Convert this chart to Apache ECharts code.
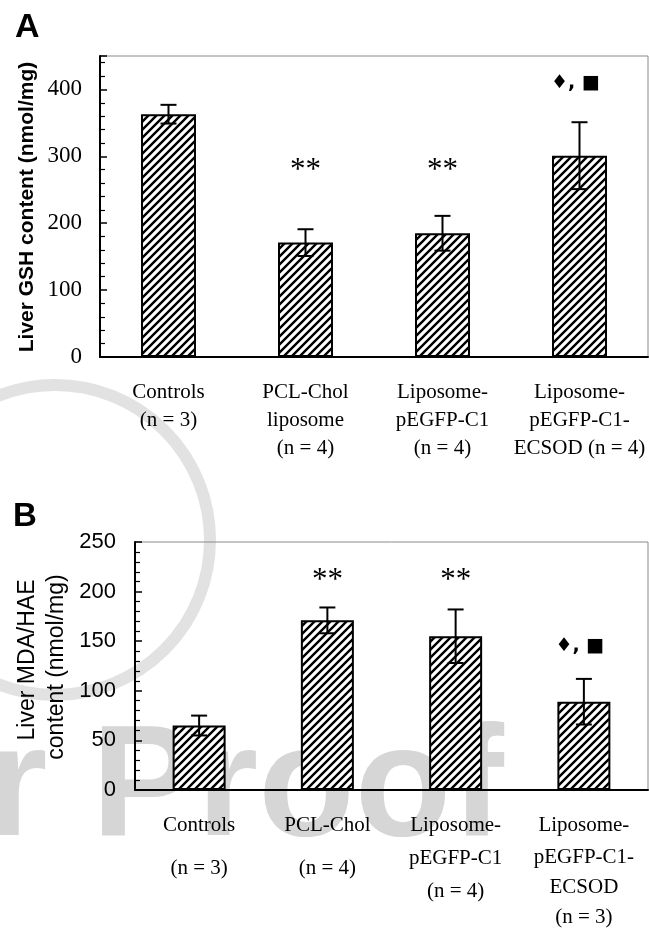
<!DOCTYPE html>
<html>
<head>
<meta charset="utf-8">
<script src="https://cdn.jsdelivr.net/npm/echarts@6/dist/echarts.min.js"></script>
<style>
  html, body { margin: 0; padding: 0; background: #fff; }
  #chart { width: 649px; height: 928px; }
</style>
</head>
<body>
<div id="chart"></div>
<script>
// panel A: liver GSH
var categoriesA = ['Controls\n(n = 3)', 'PCL-Chol\nliposome\n(n = 4)', 'Liposome-\npEGFP-C1\n(n = 4)', 'Liposome-\npEGFP-C1-\nECSOD (n = 4)']
var gshMean = [363, 171, 185, 301]
var gshErr = [14, 20, 26, 50]
var gshMarks = ['', '**', '**', '\u2666, \u25A0']
var gshMarkAt = [null, 278, 278, 410]

// panel B: liver MDA/HAE
var categoriesB = ['Controls\n(n = 3)', 'PCL-Chol\n(n = 4)', 'Liposome-\npEGFP-C1\n(n = 4)', 'Liposome-\npEGFP-C1-\nECSOD\n(n = 3)']
var mdaMean = [65, 171, 155, 89]
var mdaErr = [10, 13, 27, 23]
var mdaMarks = ['', '**', '**', '\u2666, \u25A0']
var mdaMarkAt = [null, 211, 211, 145]

var serif = 'Liberation Serif'
var sans = 'Liberation Sans'

// hatch pattern ///
var tile = document.createElement('canvas')
tile.width = 8
tile.height = 8
var ctx = tile.getContext('2d')
ctx.fillStyle = '#fff'
ctx.fillRect(0, 0, 8, 8)
ctx.strokeStyle = '#000'
ctx.lineWidth = 2.4
ctx.beginPath()
ctx.moveTo(0, 8); ctx.lineTo(8, 0)
ctx.moveTo(-2, 2); ctx.lineTo(2, -2)
ctx.moveTo(6, 10); ctx.lineTo(10, 6)
ctx.stroke()
var hatch = { image: tile, repeat: 'repeat' }

function errorItem (params, api) {
  var x = api.value(0)
  var m = api.value(1)
  var e = api.value(2)
  var top = api.coord([x, m + e])
  var bot = api.coord([x, m - e])
  var style = { stroke: '#000', lineWidth: 2 }
  return {
    type: 'group',
    children: [
      { type: 'line', shape: { x1: top[0], y1: top[1], x2: bot[0], y2: bot[1] }, style: style },
      { type: 'line', shape: { x1: top[0] - 8, y1: top[1], x2: top[0] + 8, y2: top[1] }, style: style },
      { type: 'line', shape: { x1: bot[0] - 8, y1: bot[1], x2: bot[0] + 8, y2: bot[1] }, style: style }
    ]
  }
}

function markItem (marks) {
  return function (params, api) {
    var i = api.value(0)
    var p = api.coord([i, api.value(1)])
    var txt = marks[i]
    var star = txt === '**'
    return {
      type: 'text',
      x: star ? p[0] : p[0] - 4,
      y: p[1],
      style: {
        text: txt,
        fill: '#000',
        font: star ? '31px ' + serif : 'bold 19px "DejaVu Sans"',
        align: 'center',
        verticalAlign: 'middle'
      }
    }
  }
}

function markData (at) {
  var out = []
  at.forEach(function (v, i) { if (v !== null) out.push([i, v]) })
  return out
}

function richLabels (cats, styleFor) {
  return function (value, index) {
    return cats[index].split('\n').map(function (line, k) {
      return '{' + styleFor(index, k) + '|' + line + '}'
    }).join('\n')
  }
}

// left axis: line + labels; ticks come from a twin axis placed on the same line
function valueAxis (grid, max, step, label) {
  return {
    type: 'value',
    gridIndex: grid,
    min: 0,
    max: max,
    interval: step,
    axisLine: { show: true, lineStyle: { color: '#000', width: 2 } },
    axisTick: { show: false },
    splitLine: { show: false },
    axisLabel: label
  }
}

function tickAxis (grid, max, step, offset) {
  return {
    type: 'value',
    gridIndex: grid,
    position: 'right',
    offset: offset,
    min: 0,
    max: max,
    interval: step,
    axisLine: { show: false },
    axisLabel: { show: false },
    splitLine: { show: false },
    axisTick: { show: true, length: 7, lineStyle: { color: '#000', width: 1.5 } },
    minorTick: { show: true, splitNumber: 5, length: 5, lineStyle: { color: '#000', width: 1.2 } }
  }
}

var chart = echarts.init(document.getElementById('chart'))
chart.setOption({
  backgroundColor: '#fff',
  animation: false,
  graphic: [
    // faint watermark
    { type: 'circle', z: -10, shape: { cx: 55, cy: 540, r: 155 }, style: { fill: 'none', stroke: '#e2e2e2', lineWidth: 12 }, silent: true },
    { type: 'text', z: -10, left: -14, top: 712, style: { text: 'r Proof', font: 'bold 158px ' + sans, fill: '#d6d6d6' }, silent: true },
    { type: 'text', left: 15, top: 11, style: { text: 'A', font: 'bold 34px ' + sans, fill: '#000' } },
    { type: 'text', left: 13, top: 500, style: { text: 'B', font: 'bold 33px ' + sans, fill: '#000' } },
    { type: 'text', x: 27, y: 207, rotation: Math.PI / 2, style: { text: 'Liver GSH content (nmol/mg)', font: 'bold 21px ' + sans, fill: '#000', align: 'center', verticalAlign: 'middle' } },
    { type: 'text', x: 28, y: 660, rotation: Math.PI / 2, style: { text: 'Liver MDA/HAE', font: '23px ' + sans, fill: '#000', align: 'center', verticalAlign: 'middle' } },
    { type: 'text', x: 57, y: 667, rotation: Math.PI / 2, style: { text: 'content (nmol/mg)', font: '23px ' + sans, fill: '#000', align: 'center', verticalAlign: 'middle' } }
  ],
  grid: [
    { left: 100, right: 1, top: 56, height: 301, show: true, borderColor: '#8a8a8a', borderWidth: 1 },
    { left: 135, right: 1, top: 542, height: 248, show: true, borderColor: '#8a8a8a', borderWidth: 1 }
  ],
  xAxis: [
    {
      type: 'category',
      gridIndex: 0,
      data: categoriesA,
      axisLine: { lineStyle: { color: '#000', width: 2 } },
      axisTick: { show: false },
      axisLabel: {
        interval: 0,
        margin: 21,
        formatter: richLabels(categoriesA, function () { return 'a' }),
        rich: { a: { fontFamily: serif, fontSize: 21, lineHeight: 28, color: '#000' } }
      }
    },
    {
      type: 'category',
      gridIndex: 1,
      data: categoriesB,
      axisLine: { lineStyle: { color: '#000', width: 2 } },
      axisTick: { show: false },
      axisLabel: {
        interval: 0,
        margin: 18,
        formatter: richLabels(categoriesB, function (i, k) {
          if (k === 0) return 'a'
          if (i < 2) return 'b'
          return i === 3 ? 'd' : 'c'
        }),
        rich: {
          a: { fontFamily: serif, fontSize: 21, lineHeight: 34, color: '#000' },
          b: { fontFamily: serif, fontSize: 21, lineHeight: 52, color: '#000' },
          c: { fontFamily: serif, fontSize: 21, lineHeight: 33, color: '#000' },
          d: { fontFamily: serif, fontSize: 21, lineHeight: 30, color: '#000' }
        }
      }
    }
  ],
  yAxis: [
    valueAxis(0, 450, 100, {
      margin: 18,
      color: '#000',
      fontFamily: serif,
      fontSize: 23,
      formatter: function (v) { return v % 100 === 0 ? String(v) : '' }
    }),
    valueAxis(1, 250, 50, { margin: 19, color: '#000', fontFamily: sans, fontSize: 22 }),
    tickAxis(0, 450, 100, -548),
    tickAxis(1, 250, 50, -513)
  ],
  series: [
    {
      type: 'bar',
      xAxisIndex: 0,
      yAxisIndex: 0,
      barWidth: 55,
      data: gshMean,
      itemStyle: { color: hatch, borderColor: '#000', borderWidth: 2 }
    },
    {
      type: 'custom',
      xAxisIndex: 0,
      yAxisIndex: 0,
      renderItem: errorItem,
      z: 5,
      data: gshMean.map(function (m, i) { return [i, m, gshErr[i]] })
    },
    {
      type: 'custom',
      xAxisIndex: 0,
      yAxisIndex: 0,
      renderItem: markItem(gshMarks),
      z: 5,
      data: markData(gshMarkAt)
    },
    {
      type: 'bar',
      xAxisIndex: 1,
      yAxisIndex: 1,
      barWidth: 53,
      data: mdaMean,
      itemStyle: { color: hatch, borderColor: '#000', borderWidth: 2 }
    },
    {
      type: 'custom',
      xAxisIndex: 1,
      yAxisIndex: 1,
      renderItem: errorItem,
      z: 5,
      data: mdaMean.map(function (m, i) { return [i, m, mdaErr[i]] })
    },
    {
      type: 'custom',
      xAxisIndex: 1,
      yAxisIndex: 1,
      renderItem: markItem(mdaMarks),
      z: 5,
      data: markData(mdaMarkAt)
    }
  ]
})
</script>
</body>
</html>
